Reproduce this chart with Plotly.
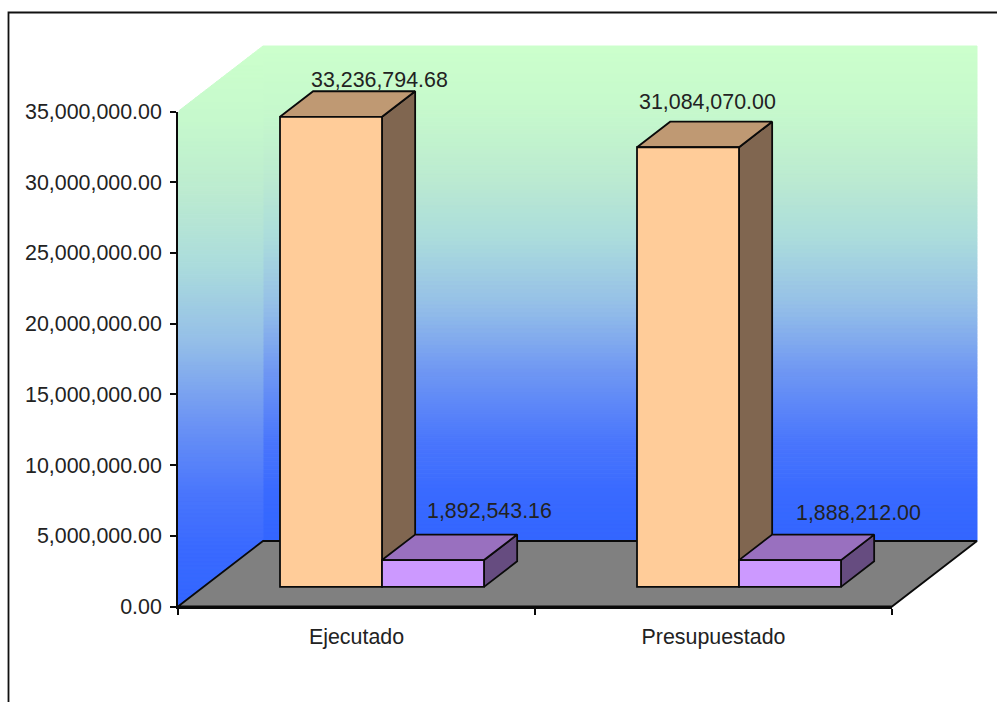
import plotly.graph_objects as go

# Chart data
categories = ["Ejecutado", "Presupuestado"]
series_a = [33236794.68, 31084070.00]
series_b = [1892543.16, 1888212.00]
y_ticks = [0, 5000000, 10000000, 15000000, 20000000, 25000000, 30000000, 35000000]

# Canvas and plot box, in pixels
W, H = 997, 702
PX_LEFT, PX_RIGHT, PX_TOP, PX_BOTTOM = 178, 892, 111.5, 606.5
Y_MAX = 35000000
X_LO, X_HI = -0.5, 1.5

# Pseudo-3D projection: depth runs from 0 (front) to 1 (back wall)
px_per_x = (PX_RIGHT - PX_LEFT) / (X_HI - X_LO)
val_per_px = Y_MAX / (PX_BOTTOM - PX_TOP)
DEPTH_X = 85 / px_per_x
DEPTH_Y = 65.5 * val_per_px
BAR_FRONT, BAR_BACK = 0.30, 0.69
BAR_W = 2 / 7

# Colours
WALL_STOPS = [
    (0.00, (204, 255, 204)), (0.125, (198, 249, 204)), (0.26, (188, 235, 208)),
    (0.39, (171, 220, 220)), (0.53, (148, 190, 232)), (0.66, (111, 151, 243)),
    (0.80, (74, 118, 252)), (0.90, (58, 106, 255)), (1.00, (51, 102, 255)),
]
FLOOR = "#808080"
EDGE = "#0a0a0a"
COLORS_A = dict(front="#FFCC99", top="#BF9973", side="#806650")
COLORS_B = dict(front="#CC99FF", top="#9970BF", side="#664C80")
FONT = dict(family="Liberation Sans, Arial, sans-serif", size=21.4, color="#222222")


def project(x, y, d):
    return x + d * DEPTH_X, y + d * DEPTH_Y


def polygon(corners, fill, line_color=None, line_width=0):
    xs = [c[0] for c in corners] + [corners[0][0]]
    ys = [c[1] for c in corners] + [corners[0][1]]
    return go.Scatter(
        x=xs, y=ys, xaxis="x", yaxis="y", mode="lines", fill="toself", fillcolor=fill,
        line=dict(color=line_color or fill, width=line_width or 1),
        hoverinfo="skip", showlegend=False,
    )


def wall_color(t):
    for (p0, c0), (p1, c1) in zip(WALL_STOPS, WALL_STOPS[1:]):
        if t <= p1:
            k = (t - p0) / (p1 - p0)
            return "rgb(%d,%d,%d)" % tuple(round(a + (b - a) * k) for a, b in zip(c0, c1))
    return "rgb(%d,%d,%d)" % WALL_STOPS[-1][1]


def clamp01(v):
    return max(0.0, min(1.0, v))


def side_wall_span(v):
    """Horizontal extent of the slanted side wall at height v."""
    left = X_LO + DEPTH_X * clamp01((v - Y_MAX) / DEPTH_Y)
    right = X_LO + DEPTH_X * clamp01(v / DEPTH_Y)
    return left, right


fig = go.Figure()

# Back wall: gradient bands between the floor line and the wall top
BANDS = 124
for i in range(BANDS):
    v0 = DEPTH_Y + Y_MAX * (BANDS - i - 1) / BANDS
    v1 = DEPTH_Y + Y_MAX * (BANDS - i) / BANDS
    fig.add_trace(polygon(
        [(X_LO + DEPTH_X, v0), (X_HI + DEPTH_X, v0), (X_HI + DEPTH_X, v1), (X_LO + DEPTH_X, v1)],
        wall_color(i / (BANDS - 1)),
    ))

# Side wall: level bands over its full height, cut to the slanted outline
SIDE_BANDS = 140
side_height = Y_MAX + DEPTH_Y
for i in range(SIDE_BANDS):
    v0 = side_height * (SIDE_BANDS - i - 1) / SIDE_BANDS
    v1 = side_height * (SIDE_BANDS - i) / SIDE_BANDS
    l0, r0 = side_wall_span(v0)
    l1, r1 = side_wall_span(v1)
    fig.add_trace(polygon(
        [(l0, v0), (r0, v0), (r1, v1), (l1, v1)],
        wall_color(i / (SIDE_BANDS - 1)),
    ))

# Floor
fig.add_trace(polygon(
    [project(X_LO, 0, 0), project(X_HI, 0, 0), project(X_HI, 0, 1), project(X_LO, 0, 1)],
    FLOOR, EDGE, 1.8,
))


def add_box_faces(x0, x1, value, colors):
    """Top and right faces of one bar, drawn behind its front face."""
    base = BAR_FRONT * DEPTH_Y
    front_r = project(x1, 0, BAR_FRONT)[0]
    back_r = project(x1, 0, BAR_BACK)[0]
    front_l = project(x0, 0, BAR_FRONT)[0]
    back_l = project(x0, 0, BAR_BACK)[0]
    rise = (BAR_BACK - BAR_FRONT) * DEPTH_Y
    top = base + value
    fig.add_trace(polygon(
        [(front_r, base), (back_r, base + rise), (back_r, top + rise), (front_r, top)],
        colors["side"], EDGE, 1.8,
    ))
    fig.add_trace(polygon(
        [(front_l, top), (front_r, top), (back_r, top + rise), (back_l, top + rise)],
        colors["top"], EDGE, 1.8,
    ))


for i in range(len(categories)):
    add_box_faces(i - BAR_W, i, series_a[i], COLORS_A)
    add_box_faces(i, i + BAR_W, series_b[i], COLORS_B)

# Front faces are ordinary bars, on the subplot that carries the visible axes
shift_x = BAR_FRONT * DEPTH_X
shift_y = BAR_FRONT * DEPTH_Y
for values, offset, colors in ((series_a, -BAR_W / 2, COLORS_A), (series_b, BAR_W / 2, COLORS_B)):
    fig.add_trace(go.Bar(
        x=[i + offset + shift_x for i in range(len(categories))],
        y=values,
        base=[shift_y] * len(values),
        width=BAR_W,
        xaxis="x2", yaxis="y2",
        marker=dict(color=colors["front"], line=dict(color=EDGE, width=1.8)),
        hoverinfo="skip", showlegend=False,
    ))

# Value labels sit just above the back edge of each bar, nudged clear of it
label_nudges_a = [(15, 11), (-14, 20)]
label_nudges_b = [(23, 24), (35, 22)]
annotations = []
for values, offset, nudges in ((series_a, -BAR_W / 2, label_nudges_a), (series_b, BAR_W / 2, label_nudges_b)):
    for i, value in enumerate(values):
        ax, ay = project(i + offset, shift_y + value, BAR_BACK - BAR_FRONT)
        annotations.append(dict(
            x=ax + shift_x, y=ay, xref="x", yref="y", text=f"{value:,.2f}",
            showarrow=False, font=FONT, xshift=nudges[i][0], yshift=nudges[i][1],
            xanchor="center", yanchor="middle",
        ))

fig.update_layout(
    width=W, height=H, margin=dict(l=0, r=0, t=0, b=0, autoexpand=False), autosize=False,
    paper_bgcolor="white", plot_bgcolor="rgba(0,0,0,0)",
    barmode="overlay", showlegend=False, annotations=annotations,
    # Hidden full-canvas axes share the scale of the visible ones
    xaxis=dict(
        domain=[0, 1], visible=False, fixedrange=True,
        range=[X_LO - PX_LEFT / px_per_x, X_HI + (W - PX_RIGHT) / px_per_x],
    ),
    yaxis=dict(
        domain=[0, 1], visible=False, fixedrange=True,
        range=[-(H - PX_BOTTOM) * val_per_px, PX_BOTTOM * val_per_px],
    ),
    xaxis2=dict(
        domain=[PX_LEFT / W, PX_RIGHT / W], anchor="y2", range=[X_LO, X_HI], fixedrange=True,
        tickmode="array", tickvals=list(range(len(categories))), ticktext=categories,
        ticks="", ticklabelstandoff=10, tickfont=FONT,
        showgrid=False, zeroline=False, showline=True, linecolor=EDGE, linewidth=2,
        minor=dict(tickmode="array", tickvals=[X_LO, 0.5, X_HI], ticks="outside",
                   ticklen=6, tickwidth=1.5, tickcolor=EDGE, showgrid=False),
    ),
    yaxis2=dict(
        domain=[(H - PX_BOTTOM) / H, (H - PX_TOP) / H], anchor="x2", range=[0, Y_MAX], fixedrange=True,
        tickmode="array", tickvals=y_ticks, tickformat=",.2f", ticks="outside",
        ticklen=6, tickwidth=1.8, tickcolor=EDGE, ticklabelstandoff=4, tickfont=FONT,
        showgrid=False, zeroline=False, showline=True, linecolor=EDGE, linewidth=1.8,
    ),
    shapes=[dict(
        type="path", xref="paper", yref="paper", layer="below",
        path=f"M {8.5 / W} 0 L {8.5 / W} {(H - 12.5) / H} L 1 {(H - 12.5) / H}",
        line=dict(color="#111111", width=1.8),
    )],
)

fig.write_html("out.html", config={"displayModeBar": False})
